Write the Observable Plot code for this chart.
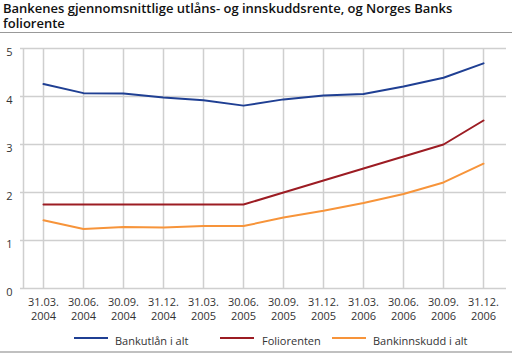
<!DOCTYPE html>
<html>
<head>
<meta charset="utf-8">
<script src="https://cdn.jsdelivr.net/npm/d3@7"></script>
<script src="https://cdn.jsdelivr.net/npm/@observablehq/plot@0.6"></script>
<style>
  html, body { margin: 0; padding: 0; background: #fff; }
  #wrap { position: relative; width: 512px; height: 354px; font-family: "Open Sans", sans-serif; color: #222; overflow: hidden; }
  #title { position: absolute; left: 3px; top: 1px; width: 505px; font-size: 13px; font-weight: 600; line-height: 15px; color: #111; }
  #sep { position: absolute; left: 0; top: 32px; width: 512px; height: 1px; background: #999; }
  #chart { position: absolute; left: 0; top: 36px; }
  #bottom { position: absolute; left: 0; top: 351px; width: 512px; height: 2px; background: #c0c0c0; }
  .lg { position: absolute; font-size: 11px; color: #333; top: 333px; line-height: 15px; white-space: nowrap; }
  .sw { position: absolute; height: 2px; width: 34px; top: 337px; }
</style>
</head>
<body>
<div id="wrap">
  <div id="title">Bankenes gjennomsnittlige utlåns- og innskuddsrente, og Norges Banks foliorente</div>
  <div id="sep"></div>
  <div id="chart"></div>
  <div id="legend"></div>
  <div id="bottom"></div>
</div>
<script>
const periods = ["31.03.2004","30.06.2004","30.09.2004","31.12.2004","31.03.2005","30.06.2005",
                 "30.09.2005","31.12.2005","31.03.2006","30.06.2006","30.09.2006","31.12.2006"];
const bankutlan = [4.26, 4.07, 4.06, 3.98, 3.92, 3.81, 3.94, 4.02, 4.05, 4.21, 4.39, 4.69];
const foliorenten = [1.75, 1.75, 1.75, 1.75, 1.75, 1.75, 2.0, 2.25, 2.5, 2.75, 3.0, 3.5];
const bankinnskudd = [1.42, 1.24, 1.28, 1.27, 1.30, 1.30, 1.48, 1.62, 1.78, 1.97, 2.21, 2.60];
const seriesNames = ["Bankutlån i alt", "Foliorenten", "Bankinnskudd i alt"];
const seriesColors = ["#1f3f93", "#9c1c23", "#f7943a"];
const yTicks = [0, 1, 2, 3, 4, 5];

const seriesValues = [bankutlan, foliorenten, bankinnskudd];
const rows = [];
seriesNames.forEach((name, s) => periods.forEach((p, i) => rows.push({period: p, value: seriesValues[s][i], series: name})));

const gridColor = "#cfcfcf";
const chart = Plot.plot({
  width: 512,
  height: 292,
  marginLeft: 20,
  marginRight: 6,
  marginTop: 12,
  marginBottom: 40,
  style: {fontFamily: "'Open Sans', sans-serif", fontSize: "11px", background: "transparent"},
  x: {type: "point", domain: periods, padding: 0.5, label: null},
  y: {domain: [0, 5], label: null},
  color: {domain: seriesNames, range: seriesColors},
  marks: [
    Plot.ruleY(yTicks, {stroke: gridColor, strokeWidth: 1.5}),
    Plot.ruleX(periods, {stroke: gridColor, strokeWidth: 1.5}),
    Plot.ruleX([periods[0]], {dx: -20, stroke: gridColor, strokeWidth: 1.5}),
    Plot.axisY(yTicks, {tickSize: 0, tickPadding: 8, dy: 4, fill: "#333", fontSize: 11, label: null, tickFormat: d => String(d)}),
    Plot.axisX({tickSize: 0, tickPadding: 8, fill: "#333", fontSize: 11, lineHeight: 1.27, label: null,
      tickFormat: d => d.slice(0, 6) + "\n" + d.slice(6)}),
    Plot.line(rows, {x: "period", y: "value", z: "series", stroke: "series", strokeWidth: 2})
  ]
});
document.getElementById("chart").appendChild(chart);

const legendPos = [[74, 115], [220, 262], [332, 373]];
const lg = document.getElementById("legend");
seriesNames.forEach((n, i) => {
  const sw = document.createElement("div");
  sw.className = "sw";
  sw.style.left = legendPos[i][0] + "px";
  sw.style.background = seriesColors[i];
  lg.appendChild(sw);
  const t = document.createElement("div");
  t.className = "lg";
  t.style.left = legendPos[i][1] + "px";
  t.textContent = n;
  lg.appendChild(t);
});
</script>
</body>
</html>
